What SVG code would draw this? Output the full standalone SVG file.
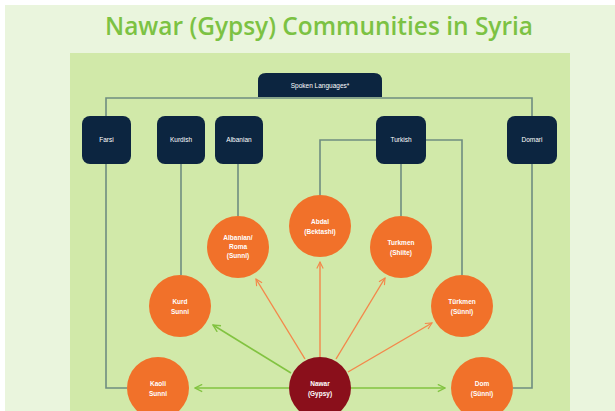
<svg xmlns="http://www.w3.org/2000/svg" width="615" height="411" viewBox="0 0 615 411">
<defs>
<style>
.lang rect{fill:#0c2540}
.lang text{fill:#ffffff;font-family:"Liberation Sans",Arial,sans-serif;font-size:6.5px;text-anchor:middle}
.comm circle{fill:#f1712a}
.comm text{fill:#ffffff;font-family:"Liberation Sans",Arial,sans-serif;font-size:6.5px;text-anchor:middle;font-weight:bold}
.tree{fill:none;stroke:#6f8d80;stroke-width:1.6}
.og{fill:none;stroke:#f4874a;stroke-width:1.4}
.gr{fill:none;stroke:#82c341;stroke-width:1.6}
</style>
<marker id="ao" viewBox="0 0 10 10" refX="9" refY="5" markerWidth="8" markerHeight="8" orient="auto" markerUnits="userSpaceOnUse">
<path d="M1,1 L9,5 L1,9" fill="none" stroke="#f4874a" stroke-width="1.4"/>
</marker>
<marker id="ag" viewBox="0 0 10 10" refX="9" refY="5" markerWidth="9" markerHeight="9" orient="auto" markerUnits="userSpaceOnUse">
<path d="M1,1 L9,5 L1,9" fill="none" stroke="#82c341" stroke-width="1.5"/>
</marker>
</defs>
<rect x="0" y="0" width="615" height="411" fill="#ffffff"/>
<rect x="5" y="5" width="610" height="406" fill="#eaf5dd"/>
<rect x="70" y="53" width="500" height="358" fill="#d1e9a9"/>
<text x="319" y="35" font-family="Open Sans, Liberation Sans, sans-serif" font-size="25" font-weight="600" fill="#7cc243" text-anchor="middle" textLength="428" lengthAdjust="spacingAndGlyphs">Nawar (Gypsy) Communities in Syria</text>

<g id="connectors">
<path class="tree" d="M106,116 V98 H532 V116"/>
<path class="tree" d="M106,164 V388 H127"/>
<path class="tree" d="M532,164 V388 H513"/>
<path class="tree" d="M181,164 V275"/>
<path class="tree" d="M238,164 V216"/>
<path class="tree" d="M320,196 V140 H376"/>
<path class="tree" d="M426,140 H462 V275"/>
<path class="tree" d="M401,164 V216"/>
<path class="og" d="M305,359 L256,279" marker-end="url(#ao)"/>
<path class="og" d="M320,357 V262" marker-end="url(#ao)"/>
<path class="og" d="M336,359 L385,278" marker-end="url(#ao)"/>
<path class="og" d="M348,372 L432,323" marker-end="url(#ao)"/>
<path class="gr" d="M291,373 L213,325" marker-end="url(#ag)"/>
<path class="gr" d="M289,388 H195" marker-end="url(#ag)"/>
<path class="gr" d="M351,388 H445" marker-end="url(#ag)"/>
</g>

<g id="spoken-languages" class="lang">
<path d="M258,97 V81 Q258,73 266,73 H374 Q382,73 382,81 V97 Z" fill="#0c2540"/>
<text x="320" y="88">Spoken Languages*</text>
</g>
<g id="farsi" class="lang"><rect x="82" y="116" width="49" height="48" rx="8"/><text x="106.5" y="142">Farsi</text></g>
<g id="kurdish" class="lang"><rect x="157" y="116" width="48" height="48" rx="8"/><text x="181" y="142">Kurdish</text></g>
<g id="albanian" class="lang"><rect x="215" y="116" width="48" height="48" rx="8"/><text x="239" y="142">Albanian</text></g>
<g id="turkish" class="lang"><rect x="376" y="116" width="50" height="48" rx="8"/><text x="401" y="142">Turkish</text></g>
<g id="domari" class="lang"><rect x="507" y="116" width="50" height="48" rx="8"/><text x="532" y="142">Domari</text></g>

<g id="albanian-roma" class="comm"><circle cx="238" cy="247" r="31"/><text x="238" y="240">Albanian/</text><text x="238" y="249">Roma</text><text x="238" y="258">(Sunni)</text></g>
<g id="abdal" class="comm"><circle cx="320" cy="226" r="31"/><text x="320" y="224">Abdal</text><text x="320" y="234">(Bektashi)</text></g>
<g id="turkmen-shiite" class="comm"><circle cx="401" cy="247" r="31"/><text x="401" y="245">Turkmen</text><text x="401" y="255">(Shiite)</text></g>
<g id="kurd-sunni" class="comm"><circle cx="180" cy="306" r="31"/><text x="180" y="304">Kurd</text><text x="180" y="314">Sunni</text></g>
<g id="turkmen-sunni" class="comm"><circle cx="462" cy="306" r="31"/><text x="462" y="304">Türkmen</text><text x="462" y="314">(Sünni)</text></g>
<g id="kaoli-sunni" class="comm"><circle cx="158" cy="388" r="31"/><text x="158" y="386">Kaoli</text><text x="158" y="396">Sunni</text></g>
<g id="nawar" class="comm"><circle cx="320" cy="388" r="31" style="fill:#8a0f1b"/><text x="320" y="386">Nawar</text><text x="320" y="396">(Gypsy)</text></g>
<g id="dom" class="comm"><circle cx="482" cy="388" r="31"/><text x="482" y="386">Dom</text><text x="482" y="396">(Sünni)</text></g>
</svg>
